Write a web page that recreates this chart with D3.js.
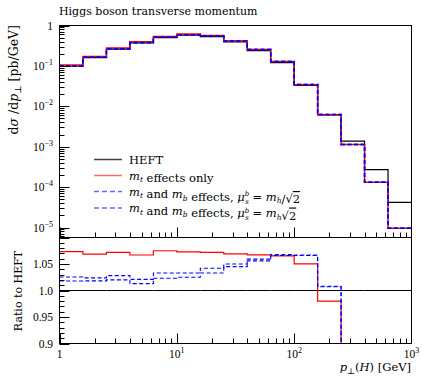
<!DOCTYPE html>
<html><head><meta charset="utf-8">
<script src="https://cdn.jsdelivr.net/npm/d3@7"></script>
<style>
body{margin:0;background:#fff;}
text{font-family:"DejaVu Serif","Liberation Serif",serif;fill:#000;}
text.tick{font-family:"Liberation Serif","DejaVu Serif",serif;}
</style></head>
<body>
<svg id="c" width="422" height="376"></svg>
<script>
const binEdges = [1, 1.585, 2.512, 3.981, 6.310, 10, 15.85, 25.12, 39.81, 63.10, 100, 158.5, 251.2, 398.1, 631.0, 1000];
const heft     = [0.098, 0.160, 0.260, 0.370, 0.500, 0.575, 0.530, 0.390, 0.240, 0.121, 0.0327, 0.0062, 0.00137, 2.7e-4, 4.2e-5];
const mtOnly   = [0.1052, 0.1710, 0.2787, 0.3948, 0.5375, 0.6170, 0.5682, 0.4169, 0.2561, 0.1289, 0.03434, 0.006076, 0.00113, 1.32e-4, 9.6e-6];
const mtmbLow  = [0.1005, 0.1638, 0.2673, 0.3778, 0.5165, 0.5940, 0.5523, 0.4095, 0.2542, 0.1292, 0.03489, 0.00625, 0.00113, 1.32e-4, 9.6e-6];
const mtmbHigh = [0.09976, 0.1629, 0.2652, 0.3748, 0.5115, 0.5894, 0.5475, 0.4076, 0.2534, 0.1290, 0.03486, 0.006243, 0.00113, 1.32e-4, 9.6e-6];
const mainTicks = [1, 1e-1, 1e-2, 1e-3, 1e-4, 1e-5];
const mainTickExp = ["", "−1", "−2", "−3", "−4", "−5"];
const ratioTicks = [0.9, 0.95, 1.0, 1.05];
const ratioTickLabels = ["0.9", "0.95", "1.0", "1.05"];
const xTicks = [1, 10, 100, 1000];
const xTickExp = ["", "1", "2", "3"];

const svg = d3.select("#c");
const L = 59.5, R = 411.5, T = 25.5, M = 237.5, B = 343.5;
const x = d3.scaleLog().domain([1, 1000]).range([L, R]);
const yMain = d3.scaleLog().domain([Math.pow(10, -5.2475), 1]).range([M, T]);
const yRat = d3.scaleLinear().domain([0.9, 1.1]).range([B, M]);

const defs = svg.append("defs");
defs.append("clipPath").attr("id", "cm").append("rect").attr("x", L).attr("y", T).attr("width", R - L).attr("height", M - T);
defs.append("clipPath").attr("id", "cr").append("rect").attr("x", L).attr("y", M).attr("width", R - L).attr("height", B - M);

function stepPts(vals) {
  const pts = [];
  vals.forEach((v, i) => { pts.push([binEdges[i], v]); pts.push([binEdges[i + 1], v]); });
  return pts;
}
const series = [
  {vals: heft, color: "#000", dash: null, w: 1.2, wr: 1},
  {vals: mtOnly, color: "#ff0000", dash: null, w: 1.5, wr: 1.2},
  {vals: mtmbLow, color: "#0000ff", dash: "4,2.5", w: 1.5, wr: 1.1},
  {vals: mtmbHigh, color: "#0000ff", dash: "4,2.5", w: 1.5, wr: 1.1}
];

// main panel
const gm = svg.append("g").attr("clip-path", "url(#cm)");
const lineMain = d3.line().x(d => x(d[0])).y(d => yMain(Math.max(d[1], 1e-7)));
series.forEach(s => {
  gm.append("path").attr("d", lineMain(stepPts(s.vals))).attr("fill", "none")
    .attr("stroke", s.color).attr("stroke-width", s.w).attr("stroke-dasharray", s.dash);
});

// ratio panel
const gr = svg.append("g").attr("clip-path", "url(#cr)");
const lineRat = d3.line().x(d => x(d[0])).y(d => yRat(d[1]));
series.forEach(s => {
  const r = s.vals.map((v, i) => v / heft[i]);
  gr.append("path").attr("d", lineRat(stepPts(r))).attr("fill", "none")
    .attr("stroke", s.color).attr("stroke-width", s.wr).attr("stroke-dasharray", s.dash);
});

// frames
svg.append("rect").attr("x", L).attr("y", T).attr("width", R - L).attr("height", M - T).attr("fill", "none").attr("stroke", "#000");
svg.append("rect").attr("x", L).attr("y", M).attr("width", R - L).attr("height", B - M).attr("fill", "none").attr("stroke", "#000");

// ticks
const tk = svg.append("g").attr("stroke", "#000").attr("stroke-width", 1);
for (let e = -6; e <= 0; e++) {
  for (let m = 1; m <= 9; m++) {
    const v = m * Math.pow(10, e);
    if (v < yMain.domain()[0] || v > 1) continue;
    const yy = Math.round(yMain(v)) + 0.5;
    tk.append("line").attr("x1", L).attr("x2", L + (m === 1 ? 10 : 5)).attr("y1", yy).attr("y2", yy);
  }
}
for (let k = 0; k <= 20; k++) {
  const v = 0.9 + k * 0.01;
  const major = k % 5 === 0;
  const yy = Math.round(yRat(v)) + 0.5;
  tk.append("line").attr("x1", L).attr("x2", L + (major ? 10 : 5)).attr("y1", yy).attr("y2", yy);
}
[M, B].forEach(base => {
  for (let e = 0; e <= 2; e++) {
    for (let m = 1; m <= 9; m++) {
      const v = m * Math.pow(10, e);
      const xx = Math.round(x(v)) + 0.5;
      tk.append("line").attr("x1", xx).attr("x2", xx).attr("y1", base).attr("y2", base - (m === 1 ? 10 : 5));
    }
  }
});

// tick labels
mainTicks.forEach((v, i) => {
  const t = svg.append("text").attr("class", "tick").attr("x", 53).attr("y", yMain(v) + 4).attr("text-anchor", "end").attr("font-size", 11.5);
  if (mainTickExp[i] === "") t.text("1");
  else { t.append("tspan").text("10"); t.append("tspan").attr("dy", -5).attr("font-size", 8).text(mainTickExp[i]); }
});
ratioTicks.forEach((v, i) => {
  svg.append("text").attr("class", "tick").attr("x", 53).attr("y", yRat(v) + 4).attr("text-anchor", "end").attr("font-size", 11.5).text(ratioTickLabels[i]);
});
xTicks.forEach((v, i) => {
  const t = svg.append("text").attr("class", "tick").attr("x", x(v)).attr("y", 358).attr("text-anchor", "middle").attr("font-size", 11.5);
  if (xTickExp[i] === "") t.text("1");
  else { t.append("tspan").text("10"); t.append("tspan").attr("dy", -5).attr("font-size", 8).text(xTickExp[i]); }
});

// title
svg.append("text").attr("x", 59).attr("y", 15).attr("font-size", 11).text("Higgs boson transverse momentum");

// y label main
const yl = svg.append("text").attr("transform", "translate(18,25) rotate(-90)").attr("text-anchor", "end").attr("font-size", 12.5);
yl.append("tspan").text("d");
yl.append("tspan").attr("font-style", "italic").text("σ");
yl.append("tspan").text(" /d");
yl.append("tspan").attr("font-style", "italic").text("p");
yl.append("tspan").attr("dy", 3).attr("font-size", 9).text("⊥");
yl.append("tspan").attr("dy", -3).text(" [pb/GeV]");

// ratio label
svg.append("text").attr("transform", "translate(22,291) rotate(-90)").attr("text-anchor", "middle").attr("font-size", 11).text("Ratio to HEFT");

// x label
const xl = svg.append("text").attr("x", 411).attr("y", 371).attr("text-anchor", "end").attr("font-size", 11.5);
xl.append("tspan").attr("font-style", "italic").text("p");
xl.append("tspan").attr("dy", 3).attr("font-size", 8.5).text("⊥");
xl.append("tspan").attr("dy", -3).text("(");
xl.append("tspan").attr("font-style", "italic").text("H");
xl.append("tspan").text(") [GeV]");

// legend
const legY = [159.5, 175.5, 191.5, 208];
const leg = svg.append("g");
series.forEach((s, i) => {
  leg.append("line").attr("x1", 94).attr("x2", 122).attr("y1", legY[i]).attr("y2", legY[i])
    .attr("stroke", i === 0 ? "#444" : (i === 1 ? "#ff6666" : "#6666ff")).attr("stroke-width", 1.5).attr("stroke-dasharray", s.dash ? "5,3" : null);
});
function mSub(t, sub) {
  t.append("tspan").attr("font-style", "italic").text("m");
  t.append("tspan").attr("font-style", "italic").attr("dy", 2.5).attr("font-size", 7.5).text(sub);
  t.append("tspan").attr("dy", -2.5).text("");
}
const lt0 = leg.append("text").attr("x", 129).attr("y", legY[0] + 4).attr("font-size", 11.5).text("HEFT");
const lt1 = leg.append("text").attr("x", 129).attr("y", legY[1] + 4).attr("font-size", 11.5);
mSub(lt1, "t"); lt1.append("tspan").text(" effects only");
[2, 3].forEach(i => {
  const t = leg.append("text").attr("x", 129).attr("y", legY[i] + 4).attr("font-size", 11.5);
  mSub(t, "t"); t.append("tspan").text(" and "); mSub(t, "b"); t.append("tspan").text(" effects, ");
  t.append("tspan").attr("font-style", "italic").text("μ");
  t.append("tspan").attr("font-style", "italic").attr("dy", -4.5).attr("font-size", 7).text("b");
  t.append("tspan").attr("font-style", "italic").attr("dy", 7.5).attr("dx", -4).attr("font-size", 7).text("s");
  t.append("tspan").attr("dy", -3).text(" = ");
  mSub(t, "h");
  if (i === 2) t.append("tspan").text("/");
  t.append("tspan").text("√");
  t.append("tspan").attr("text-decoration", "overline").text("2");
});
</script>
</body></html>
